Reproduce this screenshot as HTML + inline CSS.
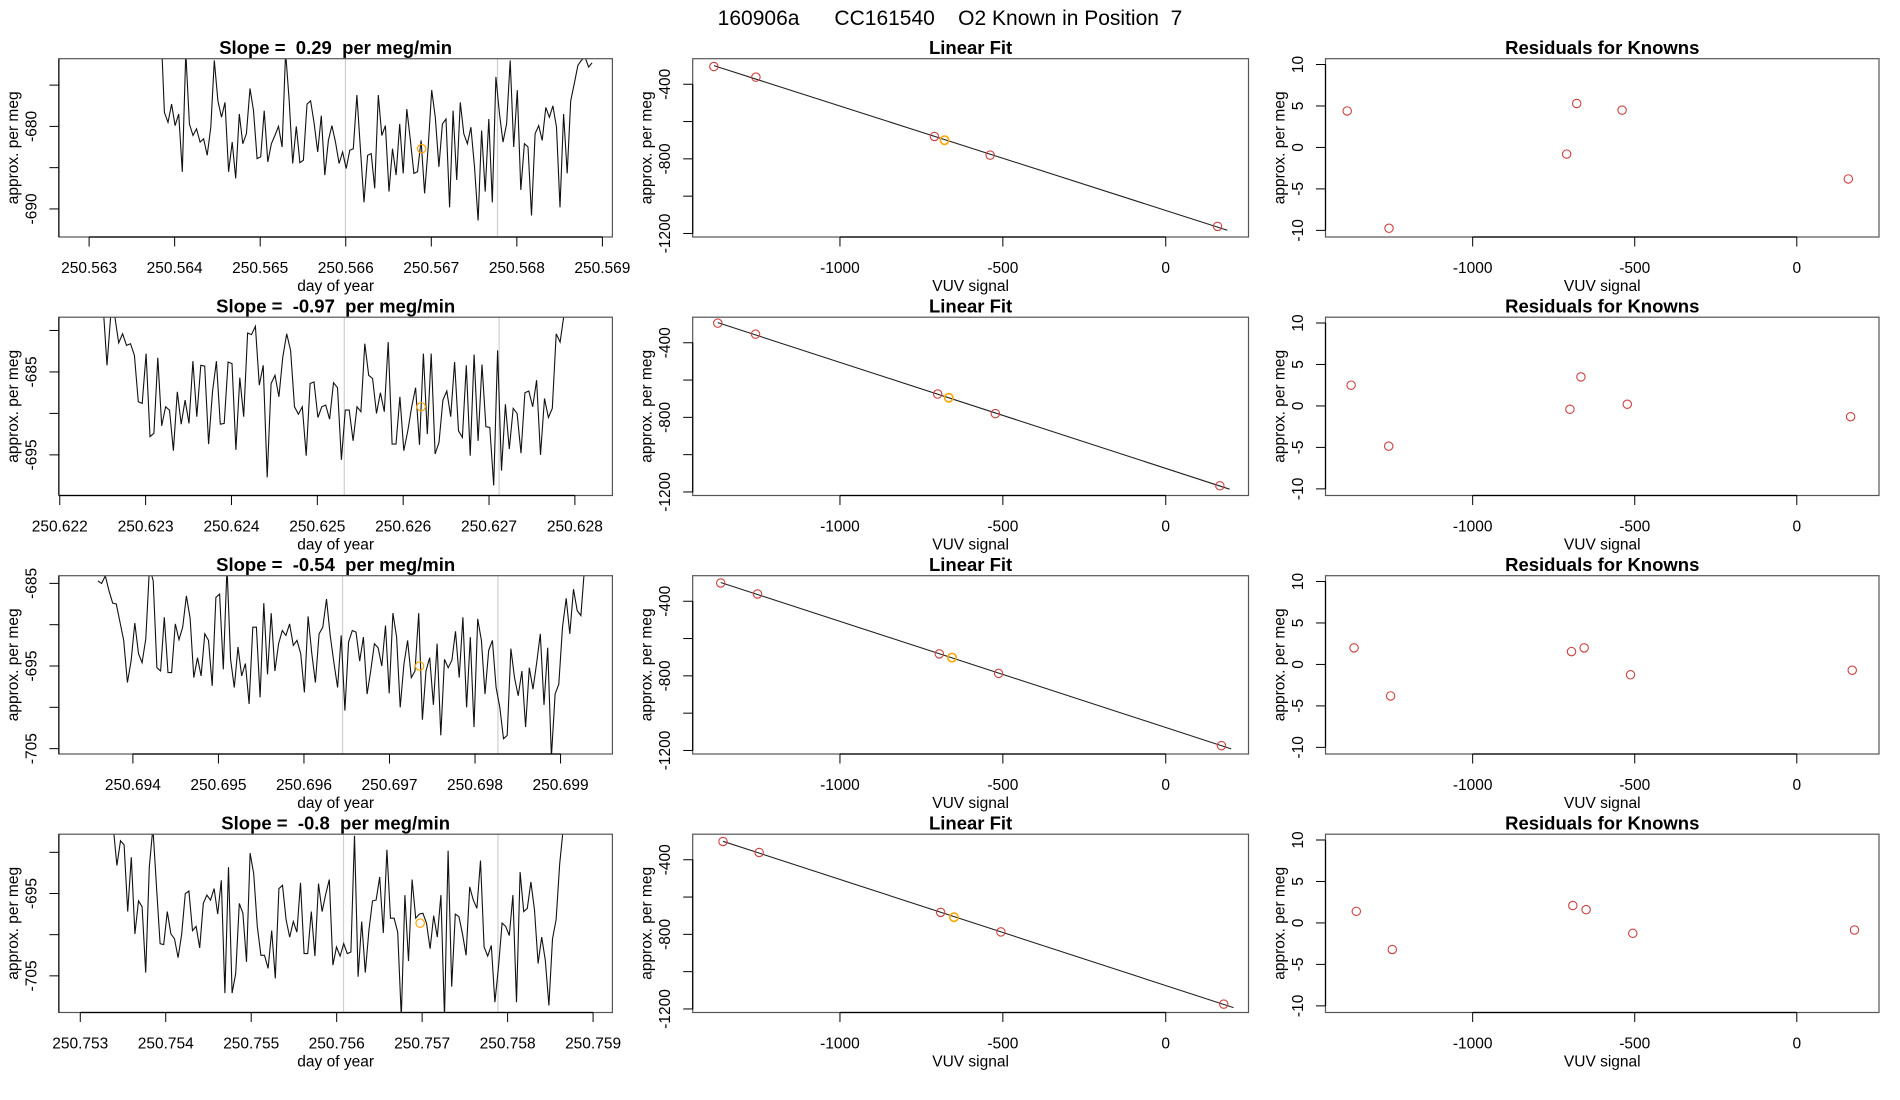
<!DOCTYPE html>
<html><head><meta charset="utf-8"><title>160906a CC161540 O2 Known in Position 7</title>
<style>html,body{margin:0;padding:0;background:#fff;}svg{display:block;font-family:"Liberation Sans",Arial,sans-serif;}</style>
</head><body>
<svg id="fig" xmlns="http://www.w3.org/2000/svg" width="1900" height="1100" viewBox="0 0 1900 1100">
<rect width="1900" height="1100" fill="#fff"/>
<text x="950" y="25" font-size="21" text-anchor="middle" xml:space="preserve" style="white-space:pre">160906a      CC161540    O2 Known in Position  7</text>
</svg>
<script>
// ---------- data ----------
const slopeLabels = ["0.29", "-0.97", "-0.54", "-0.8"];
const tsStart = [250.563839, 250.622505, 250.693591, 250.753386];
const tsEnd = [250.568880, 250.627873, 250.699324, 250.758651];
const tsXDomain = [[250.562647, 250.569117],[250.62199, 250.628437],[250.693135, 250.699606],[250.75275, 250.759226]];
const tsYDomain = [[-693.4, -671.8],[-699.9, -678.4],[-705.65, -684.07],[-709.45, -687.8]];
const tsXTicks = [
 [250.563,250.564,250.565,250.566,250.567,250.568,250.569],
 [250.622,250.623,250.624,250.625,250.626,250.627,250.628],
 [250.694,250.695,250.696,250.697,250.698,250.699],
 [250.753,250.754,250.755,250.756,250.757,250.758,250.759]];
const tsYTicks = [[-675,-680,-685,-690],[-680,-685,-690,-695],[-685,-690,-695,-700,-705],[-690,-695,-700,-705]];
const tsYLabels = [[-680,-690],[-685,-695],[-685,-695,-705],[-695,-705]];
const grayLines = [[250.565996,250.567774],[250.625314,250.627117],[250.696451,250.698268],[250.75608,250.757887]];
const orangeT = [250.566887, 250.62621, 250.697352, 250.756977];
const orangeV = [-682.7, -689.2, -695.0, -698.6];
const series0 = [-668,-678.3,-679.5,-677.3,-679.9,-678.5,-685.5,-671,-679.7,-681.1,-680.3,-681.9,-681.5,-683.5,-680.1,-672,-676.9,-678.9,-677.1,-685.5,-681.9,-686.3,-678.5,-682.1,-680.9,-675.4,-678.1,-683.9,-683.7,-678.1,-684.3,-682.1,-681.1,-680,-682.5,-671,-676.9,-684.5,-680,-684.4,-684.1,-677.3,-676.9,-679.6,-683.1,-678.7,-685.9,-681.7,-679.9,-681.9,-684.5,-683.1,-685.1,-682.9,-682.7,-676.2,-682.9,-689.2,-683.5,-683.3,-687.5,-676.2,-681.1,-679.9,-687.9,-682.7,-685.9,-679.7,-685.7,-677.9,-681.7,-685.7,-685.5,-681.7,-688.1,-682.5,-675.6,-678.9,-684.9,-679.7,-679.1,-689.8,-678.1,-686.5,-677.1,-680.9,-682.1,-680.1,-684.9,-691.4,-680.5,-687.9,-679.1,-689.2,-674,-678.5,-681.9,-679.7,-672,-682.5,-675.6,-687.7,-682.1,-682.5,-690.8,-680.9,-679.9,-681.7,-677.7,-678.9,-677.5,-680.1,-689.8,-678.5,-685.7,-676.9,-674.8,-672.6,-672,-671.6,-672.8,-672.3];
const series1 = [-677,-684.2,-677.9,-678.3,-681.5,-680.4,-681.8,-681.6,-683,-688.6,-688.8,-682.8,-692.8,-692.4,-683.3,-691.5,-689.2,-689.6,-694.5,-687.4,-691.3,-688.4,-691.2,-683.7,-690.4,-684.2,-684.3,-693.7,-687.4,-683.7,-691.3,-691.2,-683.8,-684,-694.4,-685.7,-690.4,-680.3,-680.5,-679.5,-686.6,-684.2,-697.7,-686.4,-685.4,-688,-683.2,-680.4,-682.4,-689.2,-690.1,-689.2,-695.1,-686.4,-686.2,-690.5,-689.2,-689,-690.7,-686.3,-686.9,-695.6,-689.6,-689.6,-693.3,-689.2,-689.8,-681.6,-685.4,-685.8,-690,-687.5,-689.8,-681.4,-693.7,-693.7,-688,-694.5,-692.1,-689.2,-686.9,-693.8,-682.8,-692.5,-682.8,-694.9,-693.5,-688.4,-687.3,-690.4,-683.8,-692.1,-692.9,-684.2,-695.1,-682.9,-693.3,-684.1,-691.6,-691.7,-698.7,-682.4,-696.9,-688.9,-694.3,-689.4,-690,-694.8,-687.5,-687.3,-689.2,-686,-695,-688.2,-690.5,-689.4,-680.4,-681.4,-678.1];
const series2 = [-684.7,-685,-684.1,-685.9,-687.4,-687.5,-689.7,-691.9,-697,-694.4,-689.8,-693.5,-694.6,-691.7,-683,-684.7,-695.2,-695.6,-689.1,-695.8,-695.8,-689.9,-691.8,-690.3,-686.5,-689.2,-696.4,-694,-696.2,-691.1,-691.9,-697.4,-686.7,-686.3,-695.4,-683,-694.2,-697.6,-692.7,-696.2,-694.7,-699.6,-690.3,-690.3,-698.8,-687.4,-696,-688.6,-695.6,-692.3,-690.7,-691.3,-689.9,-692.5,-691.9,-693.5,-698.2,-689,-693.5,-697,-691.1,-690.3,-686.9,-691.3,-694.6,-697.6,-691.3,-700.4,-692.1,-690.7,-690.9,-694.4,-691.5,-698.4,-695.6,-692.3,-692.8,-695,-690.1,-698.3,-688.6,-691.5,-700,-694.8,-691.9,-696.4,-695.6,-688.6,-701.5,-695.6,-694,-699.7,-692.3,-703.4,-694.2,-695.2,-694.3,-690.8,-696.4,-689.1,-700,-691.5,-702.4,-689.3,-691.9,-698.4,-693.1,-691.9,-697.6,-700,-703.8,-703.4,-692.9,-696.4,-698.6,-695.6,-702.4,-695.2,-697.8,-694.6,-691.1,-699.7,-692.8,-706,-698.4,-697.2,-690.3,-686.8,-691.1,-685.7,-688.3,-688.9,-683,-683];
const series3 = [-687,-691.6,-688.6,-689.1,-697.2,-690.6,-699.9,-695.9,-696.6,-704.6,-691.8,-687,-694.2,-701.1,-701.2,-697.2,-699.9,-700.5,-702.8,-699.9,-695,-694.7,-699.5,-699,-701.6,-696.2,-695.2,-695.8,-694.4,-697.5,-693.4,-707.1,-691.8,-707.1,-704.7,-696.2,-697.4,-703.3,-690.1,-692.6,-699,-702.5,-702.5,-704.1,-699.5,-705.3,-694.4,-694,-698.2,-700.3,-698.4,-699.7,-693.7,-702.3,-702.3,-697.2,-702.6,-693.8,-697.2,-695.1,-693.3,-703.7,-701.5,-702.6,-701.1,-702.3,-702.1,-688,-705.1,-698.4,-704.6,-699.5,-695.9,-695.8,-693,-699.8,-689.7,-698,-698,-699.7,-710,-695.2,-703.2,-693.3,-698,-697.5,-697.4,-698.6,-701.7,-697.7,-700.3,-695.2,-710,-689.8,-706.3,-697.5,-697.8,-699.9,-702.5,-694.2,-695.8,-696.8,-691,-701.5,-702.6,-701.3,-708.2,-703.9,-698.6,-699,-700.1,-695.2,-708.2,-692.4,-697.2,-696.8,-693.6,-697,-703.5,-700.3,-703.1,-708.6,-700.5,-698.2,-691.4,-687];
const seriesAll = [series0, series1, series2, series3];

// Linear fit + residuals (VUV signal vs per meg)
const vuv0 = [-1387,-1258,-710,-679,-539,159];
const vuv1 = [-1375,-1259,-700,-666,-523,166];
const vuv2 = [-1366,-1253,-695,-656,-513,171];
const vuv3 = [-1359,-1248,-691,-650,-506,178];
const meg0 = [-305,-362,-680,-700,-780,-1162];
const meg1 = [-295,-354,-675,-695,-780,-1167];
const meg2 = [-302,-361,-682,-702,-787,-1174];
const meg3 = [-302,-361,-682,-708,-787,-1174];
const resid0 = [4.4,-9.75,-0.8,5.3,4.5,-3.8];
const resid1 = [2.5,-4.85,-0.4,3.5,0.2,-1.3];
const resid2 = [2.0,-3.8,1.55,2.0,-1.25,-0.7];
const resid3 = [1.4,-3.2,2.1,1.6,-1.25,-0.85];
const orangeIdx = [3, 3, 3, 3];
const vuvAll = [vuv0, vuv1, vuv2, vuv3];
const megAll = [meg0, meg1, meg2, meg3];
const residAll = [resid0, resid1, resid2, resid3];
const fitXDomain = [-1452, 254];
const fitYDomain = [-1219, -263];
const fitXTicks = [-1000, -500, 0];
const fitYTicks = [-400, -600, -800, -1000, -1200];
const fitYLabels = [-400, -800, -1200];
const resXDomain = [-1454, 253.6];
const resYDomain = [-10.8, 10.7];
const resYTicks = [10, 5, 0, -5, -10];

// ---------- drawing ----------
const NS = "http://www.w3.org/2000/svg";
const svg = document.getElementById("fig");
function mk(tag, attrs, parent) {
  const e = document.createElementNS(NS, tag);
  for (const k in attrs) e.setAttribute(k, attrs[k]);
  (parent || svg).appendChild(e);
  return e;
}
function scale(d, r) { return v => r[0] + (v - d[0]) / (d[1] - d[0]) * (r[1] - r[0]); }
const ROW_DY = 258.5, TOP = 58.7, BOT = 237;
const COLS = [[58.9, 612.4], [692.7, 1248.5], [1325.5, 1879]];
const FS = 15.5;

function panelFrame(g, x0, x1, y0, y1, title, xlab, ylab, name) {
  const cx = (x0 + x1) / 2;
  const t = mk("text", {x: cx, y: y0 - 4.5, "font-size": 18.5, "font-weight": "bold", "text-anchor": "middle", "xml:space": "preserve"}, g);
  
  
  t.style.whiteSpace = "pre";
  t.textContent = title;
  const b = mk("rect", {x: x0, y: y0, width: x1 - x0, height: y1 - y0, fill: "none", stroke: "#555", "stroke-width": 1.2}, g);
  
  
  const xl = mk("text", {x: cx, y: y1 + 54, "font-size": FS, "text-anchor": "middle"}, g);
  
  
  xl.textContent = xlab;
  const yc = (y0 + y1) / 2;
  const yl = mk("text", {x: x0 - 41, y: yc, "font-size": FS, "text-anchor": "middle", transform: `rotate(-90 ${x0 - 41} ${yc})`}, g);
  
  
  yl.textContent = ylab;
}
function xAxis(g, xs, ticks, labels, y1, name) {
  const ax = mk("g", {}, g);
  
  
  mk("line", {x1: xs(ticks[0]), x2: xs(ticks[ticks.length - 1]), y1: y1, y2: y1, stroke: "#000", "stroke-width": 1.2}, ax);
  ticks.forEach((t, i) => {
    const x = xs(t);
    mk("line", {x1: x, x2: x, y1: y1, y2: y1 + 9.5, stroke: "#000", "stroke-width": 1}, ax);
    const tx = mk("text", {x: x, y: y1 + 36, "font-size": FS, "text-anchor": "middle"}, ax);
    
    
    tx.textContent = labels[i];
  });
}
function yAxis(g, ys, ticks, labels, x0, y0, y1, name) {
  const ax = mk("g", {}, g);
  
  
  mk("line", {x1: x0, x2: x0, y1: y0, y2: y1, stroke: "#000", "stroke-width": 1.2}, ax);
  ticks.forEach(t => {
    const y = ys(t);
    mk("line", {x1: x0 - 9.5, x2: x0, y1: y, y2: y, stroke: "#000", "stroke-width": 1}, ax);
  });
  labels.forEach(t => {
    const y = ys(t), x = x0 - 22.5;
    const tx = mk("text", {x: x, y: y, "font-size": FS, "text-anchor": "middle", transform: `rotate(-90 ${x} ${y})`}, ax);
    
    
    tx.textContent = String(t);
  });
}
function fmtT(t) { return t.toFixed(3); }

for (let r = 0; r < 4; r++) {
  const y0 = TOP + r * ROW_DY, y1 = BOT + r * ROW_DY;
  // ----- time series panel -----
  {
    const [x0, x1] = COLS[0];
    const g = mk("g", {});
    
    
    const xs = scale(tsXDomain[r], [x0, x1]);
    const ys = scale(tsYDomain[r], [y1, y0]);
    const cid = "clip" + r;
    const cp = mk("clipPath", {id: cid}, g);
    mk("rect", {x: x0, y: y0, width: x1 - x0, height: y1 - y0}, cp);
    grayLines[r].forEach(t => {
      const l = mk("line", {x1: xs(t), x2: xs(t), y1: y0, y2: y1, stroke: "#cfcfcf", "stroke-width": 1.2}, g);
      
      
    });
    const s = seriesAll[r];
    const n = s.length;
    const pts = s.map((v, i) => {
      const t = tsStart[r] + (tsEnd[r] - tsStart[r]) * i / (n - 1);
      return xs(t).toFixed(1) + "," + ys(v).toFixed(1);
    }).join(" ");
    const pl = mk("polyline", {points: pts, fill: "none", stroke: "#111", "stroke-width": 1.1, "clip-path": `url(#${cid})`}, g);
    
    
    const oc = mk("circle", {cx: xs(orangeT[r]), cy: ys(orangeV[r]), r: 4.2, fill: "none", stroke: "#ffa500", "stroke-width": 1.2}, g);
    
    
    panelFrame(g, x0, x1, y0, y1, "Slope =  " + slopeLabels[r] + "  per meg/min", "day of year", "approx. per meg", "time-series-" + (r + 1));
    xAxis(g, xs, tsXTicks[r], tsXTicks[r].map(fmtT), y1, "time-series-" + (r + 1));
    yAxis(g, ys, tsYTicks[r], tsYLabels[r], x0, y0, y1, "time-series-" + (r + 1));
  }
  // ----- linear fit panel -----
  {
    const [x0, x1] = COLS[1];
    const g = mk("g", {});
    
    
    const xs = scale(fitXDomain, [x0, x1]);
    const ys = scale(fitYDomain, [y1, y0]);
    const X = vuvAll[r], Y = megAll[r];
    const mx = X.reduce((a, b) => a + b) / X.length, my = Y.reduce((a, b) => a + b) / Y.length;
    let sxy = 0, sxx = 0;
    X.forEach((x, i) => { sxy += (x - mx) * (Y[i] - my); sxx += (x - mx) * (x - mx); });
    const b = sxy / sxx, a = my - b * mx;
    const xa = Math.min(...X), xb = Math.max(...X) + 30;
    const fl = mk("line", {x1: xs(xa), y1: ys(a + b * xa), x2: xs(xb), y2: ys(a + b * xb), stroke: "#222", "stroke-width": 1.1}, g);
    
    
    X.forEach((x, i) => {
      const c = mk("circle", {cx: xs(x), cy: ys(Y[i]), r: 4.2, fill: "none", stroke: "#cd4040", "stroke-width": 1.1}, g);
      
      
    });
    const oi = orangeIdx[r];
    const oc = mk("circle", {cx: xs(X[oi]), cy: ys(Y[oi]), r: 4.2, fill: "none", stroke: "#ffa500", "stroke-width": 1.6}, g);
    
    
    panelFrame(g, x0, x1, y0, y1, "Linear Fit", "VUV signal", "approx. per meg", "linear-fit-" + (r + 1));
    xAxis(g, xs, fitXTicks, fitXTicks.map(String), y1, "linear-fit-" + (r + 1));
    yAxis(g, ys, fitYTicks, fitYLabels, x0, ys(fitYTicks[0]), ys(fitYTicks[fitYTicks.length - 1]), "linear-fit-" + (r + 1));
  }
  // ----- residual panel -----
  {
    const [x0, x1] = COLS[2];
    const g = mk("g", {});
    
    
    const xs = scale(resXDomain, [x0, x1]);
    const ys = scale(resYDomain, [y1, y0]);
    const X = vuvAll[r], R = residAll[r];
    X.forEach((x, i) => {
      const c = mk("circle", {cx: xs(x), cy: ys(R[i]), r: 4.2, fill: "none", stroke: "#cd4040", "stroke-width": 1.1}, g);
      
      
    });
    panelFrame(g, x0, x1, y0, y1, "Residuals for Knowns", "VUV signal", "approx. per meg", "residuals-" + (r + 1));
    xAxis(g, xs, fitXTicks, fitXTicks.map(String), y1, "residuals-" + (r + 1));
    yAxis(g, ys, resYTicks, resYTicks, x0, ys(resYTicks[0]), ys(resYTicks[resYTicks.length - 1]), "residuals-" + (r + 1));
  }
}
</script>
</body></html>
